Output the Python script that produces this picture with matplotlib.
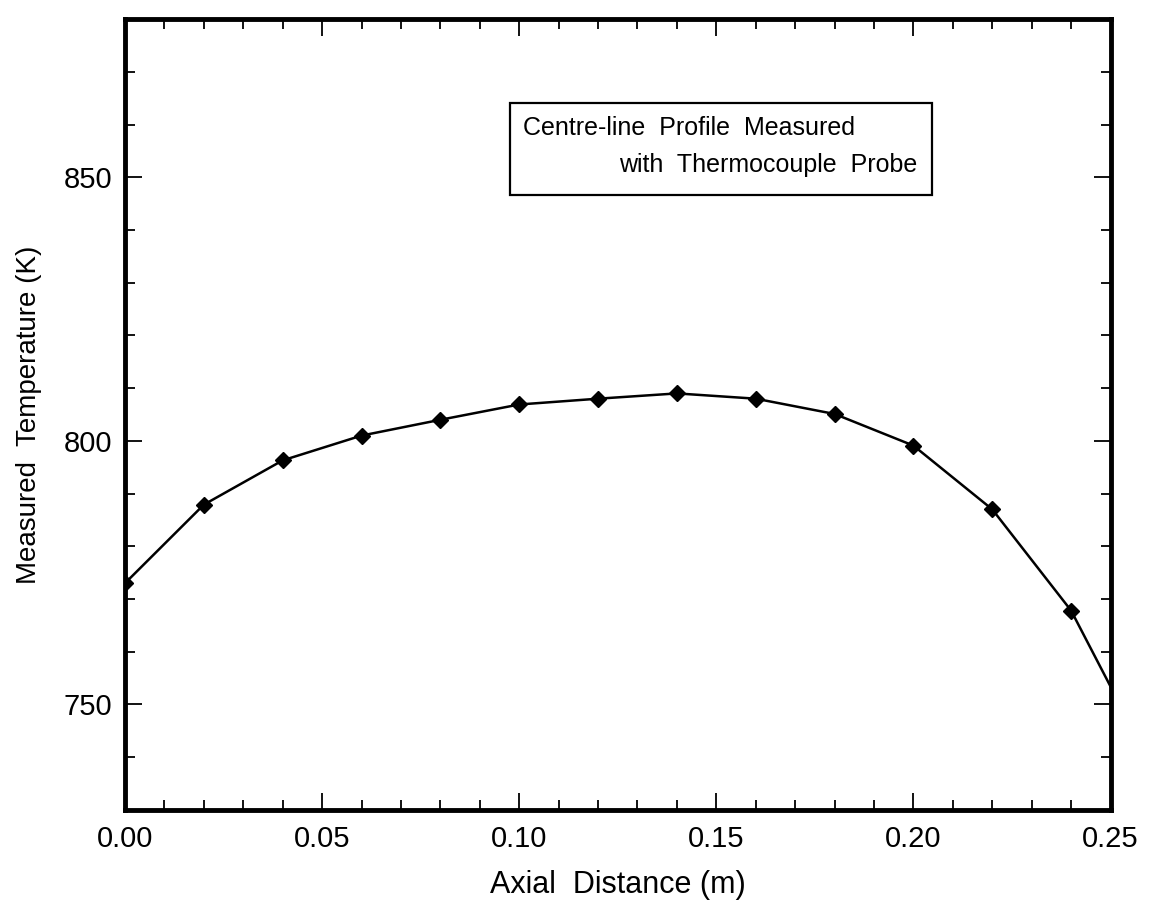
import matplotlib
matplotlib.use("Agg")
import matplotlib.pyplot as plt
from matplotlib.ticker import MultipleLocator, FormatStrFormatter

plt.rcParams['font.family'] = ['Liberation Sans', 'DejaVu Sans']

# Data
axial_distance = [0.00, 0.02, 0.04, 0.06, 0.08, 0.10, 0.12, 0.14, 0.16, 0.18, 0.20, 0.22, 0.24, 0.26]
temperature = [773.0, 787.9, 796.3, 801.0, 804.0, 806.9, 808.0, 809.0, 808.0, 805.1, 799.1, 787.0, 767.8, 739.0]

x_label = "Axial  Distance (m)"
y_label = "Measured  Temperature (K)"
legend_lines = ["Centre-line  Profile  Measured", "with  Thermocouple  Probe"]

fig = plt.figure(figsize=(11.5, 9.09), dpi=100)
ax = fig.add_axes([0.1087, 0.109, 0.857, 0.870])

ax.plot(axial_distance, temperature, color='black', linewidth=1.8,
        marker='D', markersize=8, markerfacecolor='black', markeredgecolor='black')

ax.set_xlim(0.0, 0.25)
ax.set_ylim(730, 880)

ax.xaxis.set_major_locator(MultipleLocator(0.05))
ax.xaxis.set_minor_locator(MultipleLocator(0.01))
ax.yaxis.set_major_locator(MultipleLocator(50))
ax.yaxis.set_minor_locator(MultipleLocator(10))
ax.xaxis.set_major_formatter(FormatStrFormatter('%.2f'))
ax.yaxis.set_major_formatter(FormatStrFormatter('%d'))

ax.tick_params(which='both', direction='in', top=True, right=True, width=1.3, colors='black')
ax.tick_params(which='major', length=12, labelsize=21, pad=11)
ax.tick_params(which='minor', length=7)
ax.tick_params(axis='y', which='major', pad=9)

for s in ax.spines.values():
    s.set_linewidth(3.5)
    s.set_color('black')

ax.set_xlabel(x_label, fontsize=22, labelpad=12)
ax.set_ylabel(y_label, fontsize=20, labelpad=16)

# Legend-style annotation box
ax.text(0.404, 0.853, legend_lines[0], transform=ax.transAxes, fontsize=18,
        ha='left', va='baseline')
ax.text(0.804, 0.8066, legend_lines[1], transform=ax.transAxes, fontsize=18,
        ha='right', va='baseline')
box = plt.Rectangle((0.391, 0.7775), 0.428, 0.1165, transform=ax.transAxes,
                    fill=False, edgecolor='black', linewidth=1.6)
ax.add_patch(box)

fig.savefig("out.png", dpi=100, facecolor='white')
